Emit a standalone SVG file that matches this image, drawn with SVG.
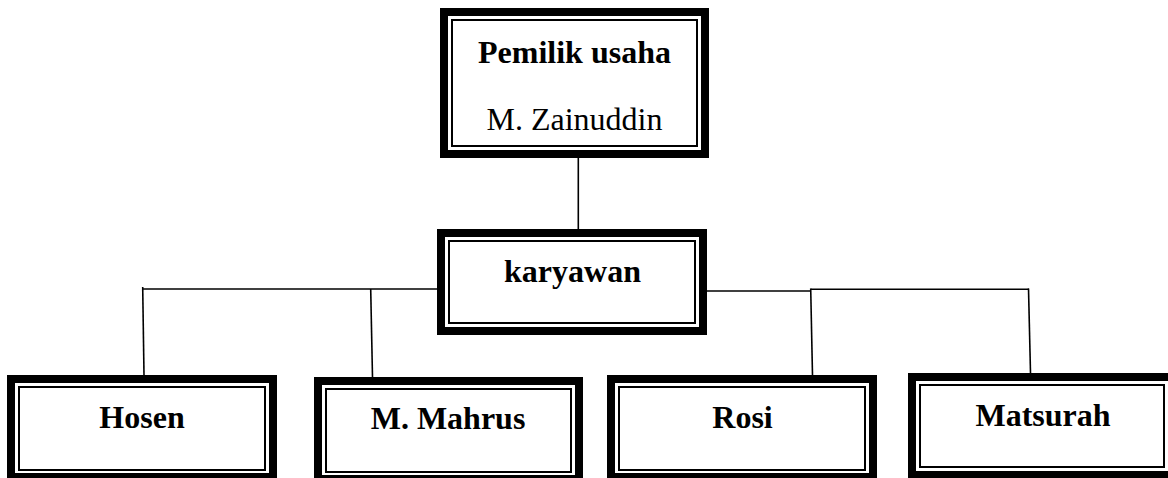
<svg xmlns="http://www.w3.org/2000/svg" width="1168" height="478" viewBox="0 0 1168 478">
  <style>
    .outer { fill: #fff; stroke: #000; stroke-width: 8; }
    .inner { fill: none; stroke: #000; stroke-width: 2; }
    .lbl { font-family: "Liberation Serif", "Times New Roman", serif; font-size: 32px; fill: #000; text-anchor: middle; }
    .b { font-weight: bold; }
    .conn line { stroke: #000; stroke-width: 1.6; fill: none; }
  </style>
  <rect x="0" y="0" width="1168" height="478" fill="#fff"/>

  <g id="connectors" class="conn">
    <line x1="578.3" y1="158" x2="578.3" y2="229"/>
    <line x1="142" y1="289" x2="437" y2="289"/>
    <line x1="142.7" y1="287" x2="144" y2="375"/>
    <line x1="370.7" y1="289" x2="372.5" y2="377"/>
    <line x1="707" y1="291" x2="811" y2="291"/>
    <line x1="810.7" y1="289.3" x2="1029" y2="289.3"/>
    <line x1="810.7" y1="288.5" x2="812.5" y2="375"/>
    <line x1="1028.5" y1="288.5" x2="1030.5" y2="373"/>
  </g>

  <g id="node-pemilik">
    <rect class="outer" x="444" y="12" width="261" height="142"/>
    <rect class="inner" x="452" y="20" width="245" height="126"/>
    <text class="lbl b" x="574.5" y="63">Pemilik usaha</text>
    <text class="lbl" x="574.5" y="130">M. Zainuddin</text>
  </g>

  <g id="node-karyawan">
    <rect class="outer" x="441" y="233" width="262" height="98"/>
    <rect class="inner" x="449" y="241" width="246" height="82"/>
    <text class="lbl b" x="572.5" y="282">karyawan</text>
  </g>

  <g id="node-hosen">
    <rect class="outer" x="11" y="379" width="262" height="98"/>
    <rect class="inner" x="19" y="387" width="246" height="83"/>
    <text class="lbl b" x="142" y="428">Hosen</text>
  </g>

  <g id="node-mahrus">
    <rect class="outer" x="318" y="381" width="261" height="98"/>
    <rect class="inner" x="326" y="389" width="245" height="83"/>
    <text class="lbl b" x="448" y="429">M. Mahrus</text>
  </g>

  <g id="node-rosi">
    <rect class="outer" x="611" y="379" width="262" height="98"/>
    <rect class="inner" x="619" y="387" width="246" height="83"/>
    <text class="lbl b" x="742.5" y="428">Rosi</text>
  </g>

  <g id="node-matsurah">
    <rect class="outer" x="912" y="377" width="260" height="98"/>
    <rect class="inner" x="920" y="385" width="244" height="82"/>
    <text class="lbl b" x="1043" y="426">Matsurah</text>
  </g>
</svg>
